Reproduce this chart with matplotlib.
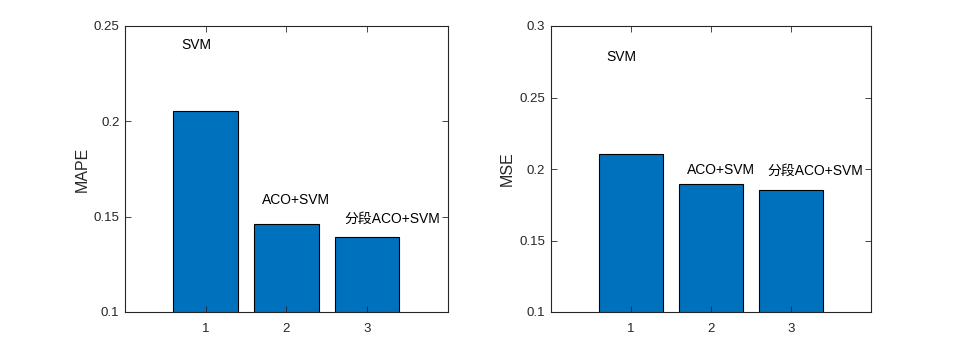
import matplotlib
matplotlib.use("Agg")
import matplotlib.pyplot as plt

plt.rcParams['font.family'] = ['Liberation Sans', 'Noto Sans CJK SC', 'DejaVu Sans']

categories = [1, 2, 3]
methods = ['SVM', 'ACO+SVM', '分段ACO+SVM']
mape_values = [0.2053, 0.146, 0.1392]
mse_values = [0.2103, 0.1895, 0.1851]
mape_label_x = [0.7, 1.7, 2.72]
mape_label_y = [0.24, 0.159, 0.149]
mse_label_x = [0.69, 1.7, 2.71]
mse_label_y = [0.2785, 0.199, 0.199]
mape_yticks = [0.1, 0.15, 0.2, 0.25]
mse_yticks = [0.1, 0.15, 0.2, 0.25, 0.3]

fig = plt.figure(figsize=(9.64, 3.52), dpi=100)
ax1 = fig.add_axes([125/964, 40/352, 322.7/964, 286/352])
ax2 = fig.add_axes([550.7/964, 40/352, 320.3/964, 286/352])

tick_color = '#262626'

def style(ax, vals, yticks, ylim, ylabel, lx, ly):
    ax.bar(categories, vals, width=0.8, color='#0072BD', edgecolor='black', linewidth=0.8, bottom=0)
    ax.set_xlim(0, 4)
    ax.set_ylim(*ylim)
    ax.set_xticks(categories)
    ax.set_xticklabels([str(c) for c in categories])
    ax.set_yticks(yticks)
    ax.set_yticklabels([('%g' % t) for t in yticks])
    ax.tick_params(direction='in', top=True, right=True, length=4, width=0.6,
                   labelsize=9.5, colors=tick_color)
    ax.tick_params(axis='x', pad=8)
    ax.tick_params(axis='y', pad=4)
    for s in ax.spines.values():
        s.set_linewidth(0.8)
        s.set_color(tick_color)
    ax.set_ylabel(ylabel, fontsize=11.5, color=tick_color, labelpad=3)
    for m, x, y in zip(methods, lx, ly):
        ax.text(x, y, m, fontsize=10, ha='left', va='center', color='black')

style(ax1, mape_values, mape_yticks, (0.1, 0.25), 'MAPE', mape_label_x, mape_label_y)
style(ax2, mse_values, mse_yticks, (0.1, 0.3), 'MSE', mse_label_x, mse_label_y)

fig.savefig('out.png', dpi=100)
